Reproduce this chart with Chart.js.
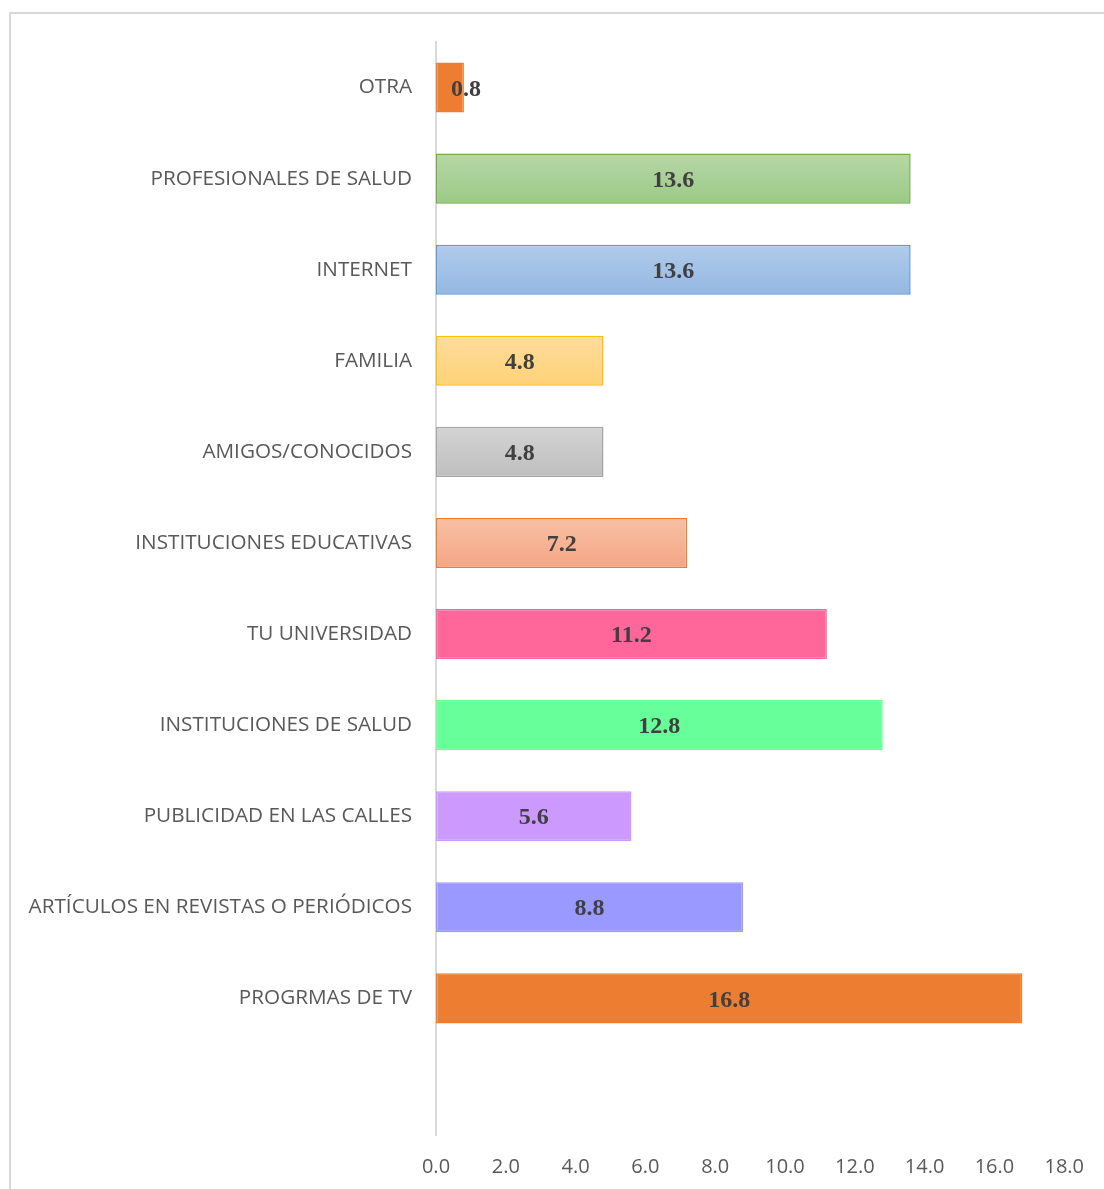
<!DOCTYPE html>
<html>
<head>
<meta charset="utf-8">
<script src="https://cdn.jsdelivr.net/npm/chart.js@4/dist/chart.umd.min.js"></script>
<style>
  html, body { margin: 0; padding: 0; background: #fff; overflow: hidden; }
  #wrap { position: relative; width: 1104px; height: 1189px; }
  #frame { position: absolute; left: 9px; top: 12px; width: 1200px; height: 1300px; border: 2px solid #d9d9d9; box-sizing: border-box; }
  canvas { position: absolute; left: 0; top: 0; }
</style>
</head>
<body>
<div id="wrap">
  <div id="frame"></div>
  <canvas id="chart" width="1104" height="1189"></canvas>
</div>
<script>
// categories top to bottom (last slot is an empty row in the source sheet)
const categories = [
    'OTRA',
    'PROFESIONALES DE SALUD',
    'INTERNET',
    'FAMILIA',
    'AMIGOS/CONOCIDOS',
    'INSTITUCIONES EDUCATIVAS',
    'TU UNIVERSIDAD',
    'INSTITUCIONES DE SALUD',
    'PUBLICIDAD EN LAS CALLES',
    'ARTÍCULOS EN REVISTAS O PERIÓDICOS',
    'PROGRMAS DE TV',
    ''
];
const values = [0.8, 13.6, 13.6, 4.8, 4.8, 7.2, 11.2, 12.8, 5.6, 8.8, 16.8, null];

// [top colour, bottom colour, border colour]
const barColors = [
    ['#ed7d31', '#ed7d31', '#ed7d31'],
    ['#b6d7a8', '#9bca85', '#70ad47'],
    ['#b1cbea', '#93b8e3', '#5b9bd5'],
    ['#ffdc9c', '#ffd278', '#ffc000'],
    ['#d3d3d3', '#bfbfbf', '#a5a5a5'],
    ['#f8c0a4', '#f4a685', '#ed7d31'],
    ['#ff6699', '#ff6699', '#ff6699'],
    ['#66ff99', '#66ff99', '#66ff99'],
    ['#cc99ff', '#cc99ff', '#cc99ff'],
    ['#9999ff', '#9999ff', '#9999ff'],
    ['#ed7d31', '#ed7d31', '#ed7d31'],
    ['#ffffff', '#ffffff', '#ffffff']
];

const xMax = 18;
const xStep = 2;

function barFill(context) {
    const c = barColors[context.dataIndex];
    if (c[0] === c[1]) return c[0];
    const chart = context.chart;
    const yScale = chart.scales.y;
    if (!yScale) return c[1];
    const yc = yScale.getPixelForValue(context.dataIndex);
    const h = 50;
    if (!Number.isFinite(yc)) return c[1];
    const g = chart.ctx.createLinearGradient(0, yc - h / 2, 0, yc + h / 2);
    g.addColorStop(0, c[0]);
    g.addColorStop(1, c[1]);
    return g;
}

const valueLabels = {
    id: 'valueLabels',
    afterDatasetsDraw(chart) {
        const ctx = chart.ctx;
        const meta = chart.getDatasetMeta(0);
        ctx.save();
        ctx.font = 'bold 24px "Liberation Serif", "Times New Roman", serif';
        ctx.fillStyle = '#404040';
        ctx.textBaseline = 'middle';
        ctx.textAlign = 'center';
        meta.data.forEach((bar, i) => {
            if (values[i] == null) return;
            const txt = values[i].toFixed(1);
            const w = ctx.measureText(txt).width;
            let x = (bar.x + bar.base) / 2;
            x = Math.max(x, bar.base + 15 + w / 2);
            ctx.fillText(txt, x, bar.y + 2);
        });
        ctx.restore();
    }
};

new Chart(document.getElementById('chart'), {
    type: 'bar',
    data: {
        labels: categories,
        datasets: [{
            data: values,
            backgroundColor: barFill,
            borderColor: barColors.map(c => c[2]),
            borderWidth: 1.5,
            borderSkipped: false,
            categoryPercentage: 1,
            barPercentage: 0.55
        }]
    },
    options: {
        indexAxis: 'y',
        responsive: false,
        animation: false,
        layout: { padding: { top: 42, right: 34, left: 0, bottom: 0 } },
        plugins: {
            legend: { display: false },
            tooltip: { enabled: false }
        },
        scales: {
            x: {
                min: 0,
                max: xMax,
                grid: { display: false, drawTicks: false },
                border: { display: false },
                ticks: {
                    stepSize: xStep,
                    padding: 20,
                    color: '#595959',
                    font: { family: '"Liberation Sans Narrow", "Open Sans", sans-serif', size: 20 },
                    callback: v => v.toFixed(1)
                },
                afterFit: s => { s.height = 54; }
            },
            y: {
                grid: { display: false, drawTicks: false },
                border: { display: true, color: '#d9d9d9', width: 2 },
                ticks: {
                    padding: 24,
                    color: '#595959',
                    font: { family: '"Open Sans", sans-serif', size: 20.7 }
                },
                afterFit: s => { s.width = 436; }
            }
        }
    },
    plugins: [valueLabels]
});
</script>
</body>
</html>
